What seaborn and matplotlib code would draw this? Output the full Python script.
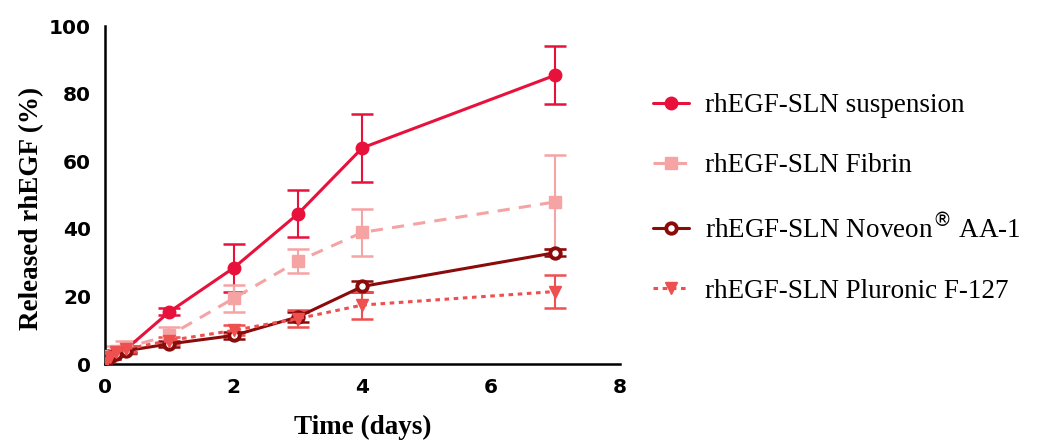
import numpy as np
import pandas as pd
import matplotlib
matplotlib.use("Agg")
import matplotlib.pyplot as plt
import seaborn as sns

time = [0, 0.08, 0.17, 0.33, 1, 2, 3, 4, 7]

susp = [0.5, 2.0, 3.5, 4.5, 15.5, 28.5, 44.5, 64.0, 85.5]
susp_err = [0.3, 0.5, 0.8, 1.0, 1.0, 7.0, 7.0, 10.0, 8.5]

fibrin = [0.5, 2.5, 4.0, 5.0, 8.5, 19.5, 30.5, 39.0, 48.0]
fibrin_err = [0.5, 1.0, 1.5, 2.0, 2.5, 4.0, 3.5, 7.0, 14.0]

noveon = [0.5, 2.0, 3.0, 4.0, 6.0, 8.5, 14.0, 23.0, 33.0]
noveon_err = [0.3, 0.5, 0.5, 0.8, 1.0, 1.0, 1.5, 1.5, 1.0]

pluronic = [0.5, 2.0, 3.5, 4.5, 7.0, 10.0, 13.5, 17.5, 21.5]
pluronic_err = [0.3, 0.5, 0.8, 1.0, 1.0, 1.5, 2.5, 4.0, 5.0]

labels = ["rhEGF-SLN suspension", "rhEGF-SLN Fibrin",
          "rhEGF-SLN Noveon$^{\u00ae}$ AA-1", "rhEGF-SLN Pluronic F-127"]

sns.set_style("white")
plt.rcParams["text.color"] = "black"

series = [
    (susp, susp_err, "#E8113C", "-", "o", labels[0]),
    (fibrin, fibrin_err, "#F5A3A3", (0, (4, 3)), "s", labels[1]),
    (noveon, noveon_err, "#8B0A0A", "-", "o", labels[2]),
    (pluronic, pluronic_err, "#EE4F4F", (0, (1.5, 1.5)), "v", labels[3]),
]

fig = plt.figure(figsize=(10.4, 4.42), dpi=100)
ax = fig.add_axes([0.101, 0.176, 0.495, 0.765])

for vals, err, col, ls, mk, lab in series:
    ax.errorbar(time, vals, yerr=err, fmt="none", ecolor=col, elinewidth=1.5,
                capsize=8, capthick=1.8, zorder=2)
    open_mk = lab == labels[2]
    sns.lineplot(x=time, y=vals, ax=ax, color=col, linestyle=ls, linewidth=2.2,
                 marker=mk, markersize=7.5 if open_mk else 9,
                 markerfacecolor="white" if open_mk else col,
                 markeredgecolor=col, markeredgewidth=2.8 if open_mk else 1,
                 label=lab, zorder=3)

ax.set_xlim(0, 8)
ax.set_ylim(0, 100)
ax.set_xticks([0, 2, 4, 6, 8])
ax.set_yticks([0, 20, 40, 60, 80, 100])
for lbl in ax.get_xticklabels() + ax.get_yticklabels():
    lbl.set_fontweight("bold")
    lbl.set_fontsize(14.5)
    lbl.set_family("DejaVu Sans")
ax.tick_params(direction="out", length=6, width=1.8, color="black",
               labelcolor="black", pad=4)
for s in ["top", "right"]:
    ax.spines[s].set_visible(False)
for s in ["left", "bottom"]:
    ax.spines[s].set_linewidth(1.8)
    ax.spines[s].set_color("black")

ax.set_xlabel("Time (days)", fontsize=19.5, fontweight="bold",
              family="Liberation Serif", color="black", labelpad=13)
ax.set_ylabel("Released rhEGF (%)", fontsize=19.5, fontweight="bold",
              family="Liberation Serif", color="black")
ax.yaxis.set_label_coords(-0.119, 0.46)

leg = ax.legend(loc="center left", bbox_to_anchor=(1.065, 0.49), frameon=False,
                prop={"family": "Liberation Serif", "size": 19.5}, handlelength=1.3,
                labelspacing=1.3, handletextpad=0.6, borderaxespad=0, borderpad=0)
for t in leg.get_texts():
    t.set_color("black")

fig.savefig("out.png", dpi=100)
